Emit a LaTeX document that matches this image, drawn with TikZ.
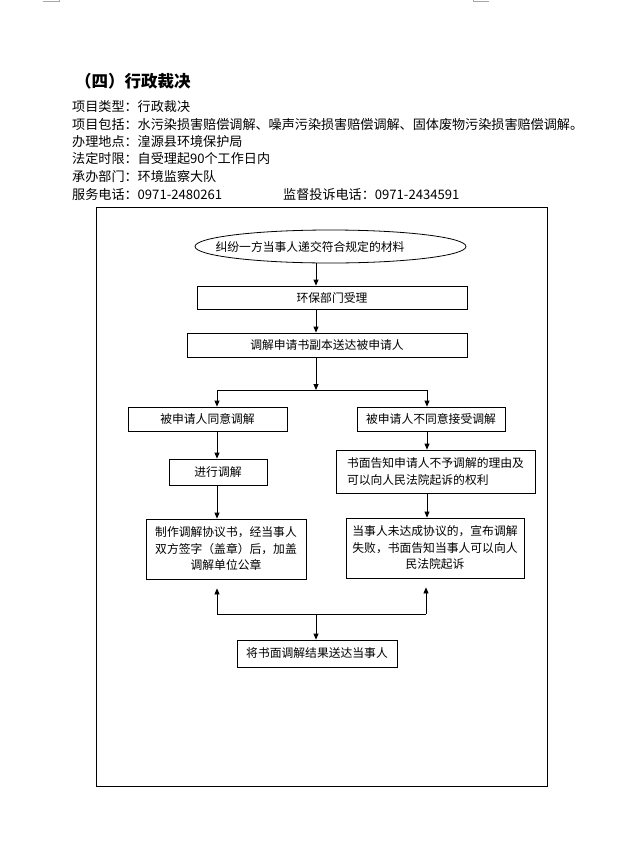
\documentclass[tikz,border=0pt]{standalone}
\usepackage{fontspec}
\setmainfont{Liberation Serif}
\newfontfamily\cjk{Noto Sans CJK SC}
\usetikzlibrary{shapes.geometric,arrows.meta}
\begin{document}
\begin{tikzpicture}[x=1pt,y=-1pt,
  box/.style={draw,line width=0.8pt,inner sep=0pt,align=center,
    font=\cjk\fontsize{11.8}{16.5}\selectfont},
  plain/.style={inner sep=0pt,font=\cjk\fontsize{11.8}{16.5}\selectfont},
  arr/.style={-{Triangle[width=5pt,length=6pt]},line width=0.8pt},
  ln/.style={line width=0.8pt},
  hdr/.style={anchor=west,inner sep=0pt,font=\cjk\fontsize{13.1}{15}\selectfont}]
\useasboundingbox (0,0) rectangle (634,860);
\fill[white] (0,0) rectangle (634,860);
% crop marks
\draw[gray!70,line width=0.8pt] (43,1) -- (59,1) -- (59,0);
\draw[gray!70,line width=0.8pt] (489,1) -- (473,1) -- (473,0);
% title and header
\node[hdr,font=\cjk\bfseries\fontsize{16.5}{18}\selectfont] (title) at (75,81) {（四）行政裁决};
\node[hdr] (h1) at (72,107) {项目类型：行政裁决};
\node[hdr] (h2) at (72,125) {项目包括：水污染损害赔偿调解、噪声污染损害赔偿调解、固体废物污染损害赔偿调解。};
\node[hdr] (h3) at (72,142) {办理地点：湟源县环境保护局};
\node[hdr] (h4) at (72,159) {法定时限：自受理起90个工作日内};
\node[hdr] (h5) at (72,177) {承办部门：环境监察大队};
\node[hdr] (h6) at (72,195) {服务电话：0971-2480261};
\node[hdr] (h7) at (283,195) {监督投诉电话：0971-2434591};
% frame
\node[draw,line width=0.8pt,inner sep=0pt,minimum width=451pt,minimum height=579pt] (frame) at (321.5,496.5) {};
% flow
\node[draw,ellipse,line width=0.8pt,inner sep=0pt,minimum width=271pt,minimum height=33pt] (e) at (330.5,246.5) {};
\node[plain] (et) at (310,246.5) {纠纷一方当事人递交符合规定的材料};
\node[box,minimum width=270pt,minimum height=23pt] (b2) at (332,297.5) {环保部门受理};
\node[box,minimum width=280pt,minimum height=24pt] (b3) at (327,345) {调解申请书副本送达被申请人};
\coordinate (cx) at (316,0);
\coordinate (j) at (316,390);
\coordinate (jl) at (217,390);
\coordinate (jr) at (427,390);
\node[box,minimum width=159pt,minimum height=24pt] (l1) at (207.5,419) {被申请人同意调解};
\node[box,minimum width=148pt,minimum height=24pt] (r1) at (431,419) {被申请人不同意接受调解};
\node[box,minimum width=98pt,minimum height=26pt] (l2) at (218,472) {进行调解};
\node[box,align=left,minimum width=199pt,minimum height=43pt] (r2) at (435.5,471.5) {书面告知申请人不予调解的理由及\\可以向人民法院起诉的权利};
\node[box,minimum width=160pt,minimum height=60pt] (l3) at (226,549) {制作调解协议书，经当事人\\双方签字（盖章）后，加盖\\调解单位公章};
\node[box,minimum width=178pt,minimum height=60pt] (r3) at (435,548) {当事人未达成协议的，宣布调解\\失败，书面告知当事人可以向人\\民法院起诉};
\coordinate (kl) at (217,614);
\coordinate (kr) at (426,614);
\coordinate (k) at (316,614);
\node[box,minimum width=160pt,minimum height=27pt] (b9) at (317,653.5) {将书面调解结果送达当事人};
% connectors
\draw[arr] (e.south -| cx) -- (b2.north -| cx);
\draw[arr] (b2.south -| cx) -- (b3.north -| cx);
\draw[arr] (b3.south -| cx) -- (j);
\draw[ln] (jl) -- (jr);
\draw[arr] (jl) -- (l1.north -| jl);
\draw[arr] (jr) -- (r1.north -| jr);
\draw[arr] (l1.south -| jl) -- (l2.north -| jl);
\draw[arr] (r1.south -| jr) -- (r2.north -| jr);
\draw[arr] (l2.south -| jl) -- (l3.north -| jl);
\draw[arr] (r2.south -| jr) -- (r3.north -| jr);
\draw[arr,shorten >=9pt] (kl) -- (l3.south -| kl);
\draw[arr,shorten >=9pt] (kr) -- (r3.south -| kr);
\draw[ln] (kl) -- (kr);
\draw[arr] (k) -- (b9.north -| k);
\end{tikzpicture}
\end{document}
